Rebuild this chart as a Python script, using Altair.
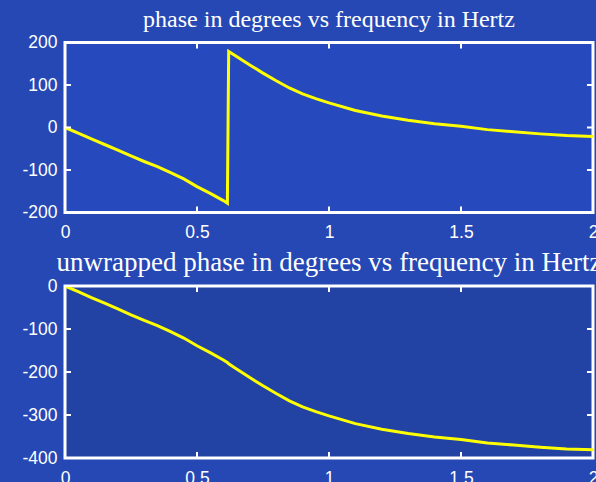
import altair as alt
import pandas as pd

# frequency in Hertz
freq = [0.0, 0.05, 0.10, 0.15, 0.20, 0.25, 0.30, 0.35, 0.40, 0.45, 0.50, 0.55,
        0.60, 0.615, 0.62, 0.65, 0.70, 0.75, 0.80, 0.85, 0.90, 0.95, 1.00,
        1.10, 1.20, 1.30, 1.40, 1.50, 1.60, 1.70, 1.80, 1.90, 2.00]

# unwrapped phase in degrees
phase_unwrapped = [0, -13, -27, -40, -53, -67, -80, -92, -106, -121, -139, -155,
                   -172, -178, -181, -193, -213, -232, -250, -267, -281, -292, -302,
                   -320, -333, -343, -351, -357, -365, -370, -375, -379, -381]

# wrapped phase in degrees
phase_wrapped = [0, -13, -27, -40, -53, -67, -80, -92, -106, -121, -139, -155,
                 -172, -178, 179, 167, 147, 128, 110, 93, 79, 68, 58,
                 40, 27, 17, 9, 3, -5, -10, -15, -19, -21]

x_ticks = [0, 0.5, 1, 1.5, 2]
top_y_ticks = [-200, -100, 0, 100, 200]
bottom_y_ticks = [-400, -300, -200, -100, 0]

top_title = "phase in degrees vs frequency in Hertz"
bottom_title = "unwrapped phase in degrees vs frequency in Hertz"

W = 528
LABEL_FONT = "Liberation Sans"
TITLE_FONT = "Liberation Serif"


def panel(values, title, title_size, title_offset, ydom, yticks, H, fill):
    df = pd.DataFrame({"f": freq, "p": values})
    xs = alt.Scale(domain=[0, 2], nice=False, zero=False)
    ys = alt.Scale(domain=ydom, nice=False, zero=False)
    xaxis = alt.Axis(values=x_ticks, ticks=False, domain=False, grid=False,
                     labelPadding=11, title=None, labelFont=LABEL_FONT,
                     labelFontSize=17.5, labelColor="white", labelFlush=False,
                     format="~g", labelOverlap=False)
    yaxis = alt.Axis(values=yticks, ticks=False, domain=False, grid=False,
                     labelPadding=8, title=None, labelFont=LABEL_FONT,
                     labelFontSize=17.5, labelColor="white", labelFlush=False,
                     format="d", labelExpr="replace(datum.label, '\u2212', '-')",
                     labelOverlap=False)
    X = lambda f: alt.X(f, scale=xs, axis=xaxis)
    Y = lambda f: alt.Y(f, scale=ys, axis=yaxis)
    line = alt.Chart(df).mark_line(color="#ffff00", strokeWidth=3, clip=True).encode(
        x=X("f:Q"), y=Y("p:Q"),
    )
    xt = pd.DataFrame({"t": x_ticks})
    yt = pd.DataFrame({"t": yticks})
    rule = dict(color="white", strokeWidth=2)
    top_ticks = alt.Chart(xt).mark_rule(**rule).encode(
        x=X("t:Q"), y=alt.value(0), y2=alt.value(6))
    bot_ticks = alt.Chart(xt).mark_rule(**rule).encode(
        x=X("t:Q"), y=alt.value(H - 6), y2=alt.value(H))
    left_ticks = alt.Chart(yt).mark_rule(**rule).encode(
        y=Y("t:Q"), x=alt.value(0), x2=alt.value(6))
    right_ticks = alt.Chart(yt).mark_rule(**rule).encode(
        y=Y("t:Q"), x=alt.value(W - 6), x2=alt.value(W))
    return alt.layer(line, top_ticks, bot_ticks, left_ticks, right_ticks).properties(
        width=W, height=H,
        view=alt.ViewBackground(fill=fill, stroke="white", strokeWidth=3),
        title=alt.TitleParams(title, font=TITLE_FONT, fontSize=title_size,
                              fontWeight="normal", color="white", anchor="middle",
                              frame="group", offset=title_offset),
    )


top = panel(phase_wrapped, top_title, 24, 2, [-200, 200], top_y_ticks, 170, "#2649bd")
bottom = panel(phase_unwrapped, bottom_title, 27, 0, [-400, 0], bottom_y_ticks, 172, "#2242a4")

chart = alt.vconcat(top, bottom, spacing=4.5).properties(
    background="#2548b4",
    padding={"left": 20, "top": 5.5, "right": -8, "bottom": -5},
)

chart.save("out.html", embed_options={"renderer": "svg", "actions": False})
